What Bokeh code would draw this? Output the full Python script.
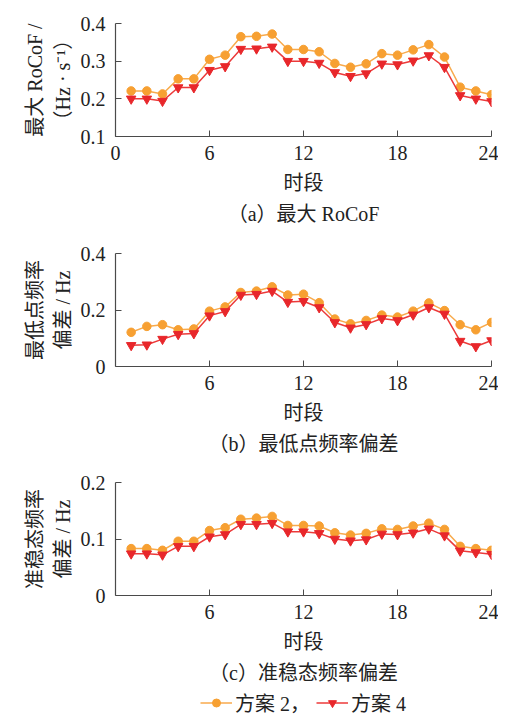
from bokeh.plotting import figure
from bokeh.layouts import column
from bokeh.models import FixedTicker, Range1d, Title, Legend, LegendItem, CustomJSTickFormatter
from bokeh.embed import file_html
from bokeh.resources import INLINE

periods = list(range(1, 25))

rocof_plan2 = [0.221, 0.221, 0.213, 0.253, 0.253, 0.305, 0.316, 0.365, 0.366, 0.372, 0.331, 0.331,
               0.325, 0.294, 0.284, 0.293, 0.320, 0.316, 0.330, 0.344, 0.311, 0.231, 0.221, 0.211]
rocof_plan4 = [0.200, 0.200, 0.194, 0.230, 0.230, 0.276, 0.286, 0.332, 0.333, 0.338, 0.300, 0.300,
               0.295, 0.270, 0.260, 0.267, 0.293, 0.291, 0.301, 0.315, 0.284, 0.209, 0.200, 0.193]

nadir_plan2 = [0.121, 0.142, 0.148, 0.130, 0.133, 0.196, 0.211, 0.262, 0.267, 0.282, 0.253, 0.256,
               0.226, 0.168, 0.151, 0.163, 0.182, 0.175, 0.196, 0.225, 0.198, 0.148, 0.130, 0.156]
nadir_plan4 = [0.075, 0.077, 0.097, 0.114, 0.117, 0.180, 0.195, 0.253, 0.256, 0.267, 0.228, 0.231,
               0.209, 0.156, 0.137, 0.149, 0.170, 0.163, 0.183, 0.209, 0.186, 0.090, 0.071, 0.092]

qss_plan2 = [0.083, 0.083, 0.080, 0.096, 0.096, 0.115, 0.120, 0.135, 0.137, 0.140, 0.124, 0.124,
             0.123, 0.111, 0.107, 0.110, 0.118, 0.117, 0.123, 0.128, 0.117, 0.087, 0.083, 0.080]
qss_plan4 = [0.074, 0.074, 0.072, 0.087, 0.087, 0.104, 0.108, 0.126, 0.126, 0.128, 0.113, 0.113,
             0.110, 0.100, 0.097, 0.099, 0.109, 0.108, 0.111, 0.118, 0.106, 0.079, 0.076, 0.073]

x_ticks_a = [0, 6, 12, 18, 24]
x_ticks_bc = [6, 12, 18, 24]
y_ticks_a = [0.1, 0.2, 0.3, 0.4]
y_ticks_b = [0, 0.2, 0.4]
y_ticks_c = [0, 0.1, 0.2]

x_label = "时段"
y_label_a = "最大 RoCoF /\n（Hz · s⁻¹）"
y_label_b = "最低点频率\n偏差 / Hz"
y_label_c = "准稳态频率\n偏差 / Hz"
caption_a = "（a）最大 RoCoF"
caption_b = "（b）最低点频率偏差"
caption_c = "（c）准稳态频率偏差"
series_names = ["方案 2，", "方案 4"]

FONT = "'Liberation Serif', 'Noto Sans CJK SC'"
ORANGE = "#F7A032"
ORANGE_LINE = "#F8AA4C"
RED = "#E8272B"
RED_LINE = "#EC3A3A"
AXIS = "#4a4a4a"
TEXT = "#222222"


def add_series(p, xs, s2, s4, size2=8.5, size4=9.5):
    l2 = p.line(xs, s2, line_color=ORANGE_LINE, line_width=1.5)
    m2 = p.scatter(xs, s2, marker="circle", size=size2, fill_color=ORANGE, line_color=ORANGE)
    l4 = p.line(xs, s4, line_color=RED_LINE, line_width=1.5)
    m4 = p.scatter(xs, s4, marker="inverted_triangle", size=size4, fill_color=RED, line_color=RED)
    return l2, m2, l4, m4


def panel(s2, s4, y0, y1, yticks, xticks, ylabel, caption, top, bottom):
    p = figure(frame_width=376, frame_height=113,
               x_range=Range1d(0, 24), y_range=Range1d(y0, y1),
               output_backend="svg", toolbar_location=None,
               min_border_left=115, min_border_right=7, min_border_top=top,
               min_border_bottom=bottom)
    p.grid.visible = False
    p.outline_line_color = None

    add_series(p, periods, s2, s4)

    for ax in (p.xaxis[0], p.yaxis[0]):
        ax.axis_line_color = AXIS
        ax.axis_line_width = 1.2
        ax.major_tick_line_color = AXIS
        ax.major_tick_in = 6
        ax.major_tick_out = 0
        ax.minor_tick_line_color = None
        ax.major_label_text_font = FONT
        ax.major_label_text_font_size = "20px"
        ax.major_label_text_color = TEXT
        ax.axis_label_text_font = FONT
        ax.axis_label_text_font_size = "20px"
        ax.axis_label_text_font_style = "normal"
        ax.axis_label_text_color = TEXT

    xa = p.xaxis[0]
    xa.ticker = FixedTicker(ticks=xticks)
    xa.formatter = CustomJSTickFormatter(code="return tick.toFixed(0);")
    xa.axis_label = x_label
    xa.major_label_standoff = 9
    xa.axis_label_standoff = 9

    ya = p.yaxis[0]
    ya.ticker = FixedTicker(ticks=yticks)
    ya.formatter = CustomJSTickFormatter(code="return Math.abs(tick) < 1e-9 ? '0' : tick.toFixed(1);")
    ya.axis_label = ylabel
    ya.major_label_standoff = 10
    ya.axis_label_standoff = 4
    ya.axis_label_text_line_height = 1.25

    p.add_layout(Title(text=caption, align="center", text_font=FONT, text_font_size="20px",
                       text_font_style="normal", text_color=TEXT, standoff=8), "below")
    return p


pa = panel(rocof_plan2, rocof_plan4, 0.1, 0.4, y_ticks_a, x_ticks_a, y_label_a, caption_a, 23, 102)
pb = panel(nadir_plan2, nadir_plan4, 0, 0.4, y_ticks_b, x_ticks_bc, y_label_b, caption_b, 15, 101)
pc = panel(qss_plan2, qss_plan4, 0, 0.2, y_ticks_c, x_ticks_bc, y_label_c, caption_c, 15, 94)

# legend strip (shared legend for the three panels); its series lie outside
# the strip's ranges, so only the legend entries are visible
pl = figure(frame_width=376, frame_height=26, x_range=Range1d(100, 101), y_range=Range1d(0, 1),
            output_backend="svg", toolbar_location=None,
            x_axis_location=None, y_axis_location=None,
            min_border_left=115, min_border_right=7, min_border_top=0, min_border_bottom=0)
pl.grid.visible = False
pl.outline_line_color = None
l2, m2, l4, m4 = add_series(pl, periods, qss_plan2, qss_plan4, size2=7, size4=8)
lg = Legend(items=[LegendItem(label=series_names[0], renderers=[l2, m2]),
                   LegendItem(label=series_names[1], renderers=[l4, m4])],
            orientation="horizontal", location="center",
            border_line_color=None, background_fill_alpha=0,
            label_text_font=FONT, label_text_font_size="20px", label_text_color=TEXT,
            glyph_width=32, glyph_height=20, label_height=20, label_standoff=3, spacing=6,
            padding=0, margin=0)
pl.add_layout(lg)

layout = column(pa, pb, pc, pl, spacing=0)
open("out.html", "w").write(file_html(layout, INLINE))
